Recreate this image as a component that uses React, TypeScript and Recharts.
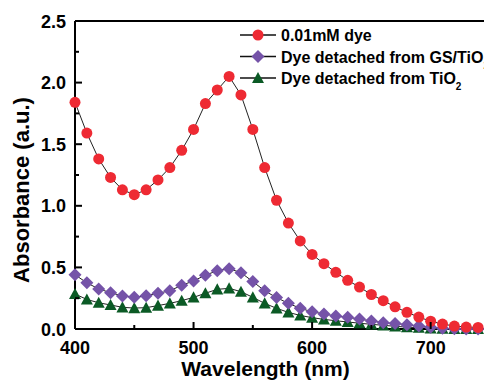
import React from 'react';
import { LineChart, Line, XAxis, YAxis, ReferenceLine, Legend } from 'recharts';

const wavelengths = [400, 410, 420, 430, 440, 450, 460, 470, 480, 490, 500, 510, 520, 530, 540, 550, 560, 570, 580, 590, 600, 610, 620, 630, 640, 650, 660, 670, 680, 690, 700, 710, 720, 730, 740];
const dye001 = [1.84, 1.59, 1.38, 1.23, 1.13, 1.09, 1.13, 1.21, 1.31, 1.45, 1.62, 1.83, 1.94, 2.05, 1.9, 1.62, 1.31, 1.045, 0.86, 0.715, 0.605, 0.53, 0.46, 0.395, 0.34, 0.28, 0.23, 0.18, 0.135, 0.097, 0.063, 0.04, 0.024, 0.016, 0.013];
const dyeGS = [0.44, 0.375, 0.325, 0.295, 0.268, 0.257, 0.27, 0.29, 0.31, 0.355, 0.39, 0.437, 0.473, 0.49, 0.457, 0.385, 0.31, 0.255, 0.208, 0.168, 0.14, 0.122, 0.105, 0.095, 0.081, 0.065, 0.051, 0.045, 0.035, 0.024, 0.014, 0.006, 0.002, 0.0, 0.0];
const dyeTiO2 = [0.284, 0.24, 0.213, 0.195, 0.176, 0.17, 0.173, 0.19, 0.208, 0.23, 0.257, 0.29, 0.322, 0.33, 0.303, 0.257, 0.208, 0.168, 0.135, 0.11, 0.092, 0.078, 0.067, 0.057, 0.047, 0.038, 0.03, 0.022, 0.015, 0.01, 0.005, 0.002, 0.0, 0.0, 0.0];
const xTicks = [400, 450, 500, 550, 600, 650, 700];
const yTicks = [0, 0.25, 0.5, 0.75, 1.0, 1.25, 1.5, 1.75, 2.0, 2.25, 2.5];
const seriesNames = ['0.01mM dye', 'Dye detached from GS/TiO', 'Dye detached from TiO'];
const seriesSubs = ['', '2', '2'];

const RED = '#EE2A33';
const PURPLE = '#7553A8';
const GREEN = '#0B5A25';
const FONT = '"Liberation Sans", Arial, Helvetica, sans-serif';

const data = wavelengths.map((w, i) => ({ w, dye: dye001[i], gs: dyeGS[i], tio2: dyeTiO2[i] }));

const diamondPath = (cx: number, cy: number, s: number) =>
  `M${cx},${cy - s}L${cx + s},${cy}L${cx},${cy + s}L${cx - s},${cy}Z`;
const trianglePath = (cx: number, cy: number, s: number) =>
  `M${cx},${cy - s}L${cx + s},${cy + s * 0.85}L${cx - s},${cy + s * 0.85}Z`;

const DiamondDot = (props: any) => {
  const { cx, cy, index } = props;
  if (cx == null || cy == null) return <g key={`d${index}`} />;
  return <path key={`d${index}`} d={diamondPath(cx, cy, 6.5)} fill={PURPLE} />;
};
const TriangleDot = (props: any) => {
  const { cx, cy, index } = props;
  if (cx == null || cy == null) return <g key={`t${index}`} />;
  return <path key={`t${index}`} d={trianglePath(cx, cy, 6)} fill={GREEN} />;
};

const XTick = (props: any) => {
  const { x, y, payload } = props;
  const v = payload.value;
  const major = v % 100 === 0;
  return (
    <g>
      <line x1={x} x2={x} y1={y} y2={y - (major ? 7 : 4)} stroke="#000" strokeWidth={2} />
      {major && (
        <text x={x} y={y + 25} textAnchor="middle" fontSize={18} fontWeight="bold" fontFamily={FONT} fill="#000">
          {v}
        </text>
      )}
    </g>
  );
};

const YTick = (props: any) => {
  const { x, y, payload } = props;
  const v = payload.value;
  const major = Math.abs(v * 2 - Math.round(v * 2)) < 1e-6;
  return (
    <g>
      <line x1={x} x2={x + (major ? 7 : 4)} y1={y} y2={y} stroke="#000" strokeWidth={2} />
      {major && (
        <text x={x - 9} y={y + 6.5} textAnchor="end" fontSize={18} fontWeight="bold" fontFamily={FONT} fill="#000">
          {v.toFixed(1)}
        </text>
      )}
    </g>
  );
};

const markerFor = (i: number, cx: number, cy: number) => {
  if (i === 0) return <circle cx={cx} cy={cy} r={5.5} fill={RED} />;
  if (i === 1) return <path d={diamondPath(cx, cy, 6.5)} fill={PURPLE} />;
  return <path d={trianglePath(cx, cy, 6)} fill={GREEN} />;
};

const LegendContent = () => (
  <svg width={484} height={100} style={{ display: 'block' }}>
    {seriesNames.map((name, i) => {
      const cy = 35 + i * 21.5;
      return (
        <g key={name}>
          <line x1={240} x2={276} y1={cy} y2={cy} stroke="#111" strokeWidth={1.3} />
          {markerFor(i, 258, cy)}
          <text x={281} y={cy + 6} fontSize={16} fontWeight="bold" fontFamily={FONT} fill="#000">
            <tspan>{name}</tspan>
            {seriesSubs[i] && (
              <tspan dy={6} fontSize={10}>
                {seriesSubs[i]}
              </tspan>
            )}
          </text>
        </g>
      );
    })}
  </svg>
);

const XTitle = (props: any) => {
  const vb = props.viewBox || { x: 75, y: 329, width: 409, height: 52 };
  return (
    <text x={vb.x + 190.5} y={vb.y + 47} textAnchor="middle" fontSize={21} fontFamily={FONT} fill="#000" fontWeight="bold">
      Wavelength (nm)
    </text>
  );
};

const YTitle = (props: any) => {
  const vb = props.viewBox || { x: 0, y: 21, width: 75, height: 308 };
  const cx = vb.x + 21;
  const cy = vb.y + vb.height / 2 + 15;
  return (
    <text
      x={cx}
      y={cy}
      transform={`rotate(-90, ${cx}, ${cy})`}
      textAnchor="middle"
      dy={8}
      fontSize={22}
      fontFamily={FONT}
      fill="#000"
      fontWeight="bold"
    >
      Absorbance (a.u.)
    </text>
  );
};

export default function App() {
  return (
    <div style={{ position: 'absolute', left: 0, top: 0, width: 484, height: 381, overflow: 'hidden', background: '#fff' }}>
      <LineChart width={484} height={381} data={data} margin={{ top: 21, right: 0, left: 0, bottom: 0 }}>
        <XAxis
          dataKey="w"
          type="number"
          domain={[400, 745]}
          ticks={xTicks}
          tick={<XTick />}
          tickSize={0}
          tickMargin={0}
          tickLine={false}
          axisLine={{ stroke: '#000', strokeWidth: 2 }}
          height={52}
          label={<XTitle />}
          interval={0}
        />
        <YAxis
          type="number"
          domain={[0, 2.5]}
          ticks={yTicks}
          tick={<YTick />}
          tickSize={0}
          tickMargin={0}
          tickLine={false}
          axisLine={{ stroke: '#000', strokeWidth: 2 }}
          width={75}
          label={<YTitle />}
          interval={0}
        />
        <ReferenceLine y={2.5} stroke="#000" strokeWidth={2} />
        <Legend
          layout="horizontal"
          verticalAlign="middle"
          align="center"
          content={<LegendContent />}
          wrapperStyle={{ position: 'absolute', left: 0, top: 0, width: 484, height: 100 }}
        />
        <Line dataKey="tio2" stroke="#222" strokeWidth={1} dot={TriangleDot} isAnimationActive={false} legendType="none" />
        <Line dataKey="gs" stroke="#222" strokeWidth={1} dot={DiamondDot} isAnimationActive={false} legendType="none" />
        <Line
          dataKey="dye"
          stroke="#222"
          strokeWidth={1}
          dot={{ r: 5.5, fill: RED, stroke: 'none' }}
          isAnimationActive={false}
          legendType="none"
        />
      </LineChart>
    </div>
  );
}
